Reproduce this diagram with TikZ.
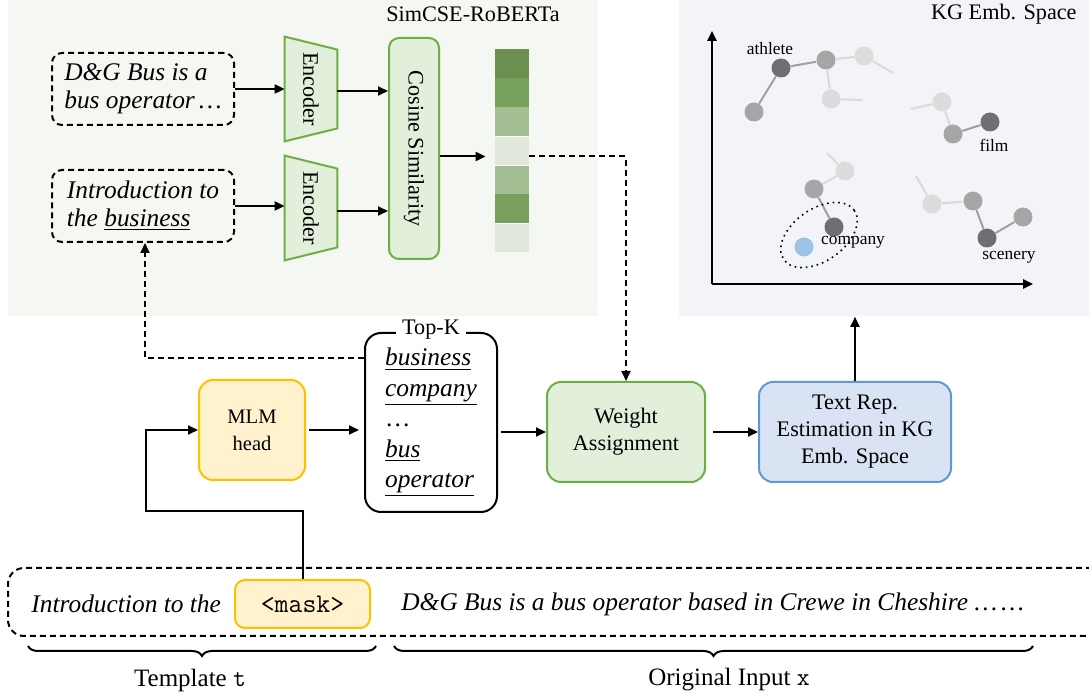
\documentclass[tikz,border=0pt]{standalone}
\usepackage{fontspec}
\setmainfont{Liberation Serif}
\usetikzlibrary{arrows.meta,decorations.pathreplacing,calc}
\definecolor{gfill}{HTML}{E2EFDA}
\definecolor{gdraw}{HTML}{70AD47}
\definecolor{yfill}{HTML}{FFF2CC}
\definecolor{ydraw}{HTML}{FFC000}
\definecolor{bfill}{HTML}{DAE3F3}
\definecolor{bdraw}{HTML}{5B9BD5}
\definecolor{lbg}{HTML}{F5F7F2}
\definecolor{rbg}{HTML}{F3F4F8}
\definecolor{barA}{HTML}{6B8F4E}
\definecolor{barB}{HTML}{77A05C}
\definecolor{barC}{HTML}{A3BE92}
\definecolor{barD}{HTML}{E1E8DB}
\definecolor{kdark}{HTML}{6F6E73}
\definecolor{kmed}{HTML}{A6A6A6}
\definecolor{klight}{HTML}{DCDCDC}
\definecolor{kblue}{HTML}{9DC3E6}
\definecolor{emed}{HTML}{A0A0A0}
\definecolor{elight}{HTML}{DADADA}
\begin{document}
\begin{tikzpicture}[x=0.5pt,y=-0.5pt,
  arr/.style={-{Triangle[length=5pt,width=4.5pt]}, line width=1pt},
  dasharr/.style={-{Triangle[length=5pt,width=4.5pt]}, line width=1pt, dash pattern=on 3pt off 2pt},
  lbl/.style={font=\fontsize{11.1}{13.5}\selectfont, align=center, inner sep=0pt},
  itbox/.style={draw, line width=1pt, dash pattern=on 3pt off 2pt, rounded corners=5pt,
    minimum width=91pt, minimum height=36pt, inner sep=0pt,
    font=\fontsize{12.7}{14}\itshape\selectfont, align=left},
  gbox/.style={draw=gdraw, fill=gfill, line width=1pt, rounded corners=7pt, inner sep=0pt, align=center},
  cell/.style={minimum width=17pt, minimum height=14.5pt, inner sep=0pt},
  kn/.style={circle, minimum size=9.5pt, inner sep=0pt},
  kdk/.style={kn, fill=kdark},
  kmd/.style={kn, fill=kmed},
  klt/.style={kn, fill=klight},
  em/.style={draw=emed, line width=1pt},
  el/.style={draw=elight, line width=1pt},
  klab/.style={font=\fontsize{8.7}{10}\selectfont, inner sep=0pt}
]
\useasboundingbox (0,0) rectangle (1089,700);

% backgrounds
\node[fill=lbg, minimum width=295pt, minimum height=158pt, anchor=north west, inner sep=0pt] (simcse) at (8,0) {};
\node[fill=rbg, minimum width=205pt, minimum height=158pt, anchor=north west, inner sep=0pt] (kg) at (679,0) {};
\node[lbl] (simlab) at (473,14) {SimCSE-RoBERTa};
\node[lbl, anchor=east] (kglab) at (1077,14) {KG Emb. Space};

% input sentence boxes
\node[itbox] (box1) at (143,89) {D\&G Bus is a\\bus operator\,…};
\node[itbox] (box2) at (143,206) {Introduction to\\the \underline{business}};

% encoders
\node[minimum width=26pt, minimum height=52pt, inner sep=0pt] (enc1) at (311,89) {};
\node[minimum width=26pt, minimum height=52pt, inner sep=0pt] (enc2) at (311,208) {};
\foreach \e in {enc1,enc2}{
  \draw[draw=gdraw, fill=gfill, line width=1pt, line join=miter]
    (\e.north west) -- ($(\e.north east)+(0,13)$) -- ($(\e.south east)+(0,-13)$) -- (\e.south west) -- cycle;
  \node[lbl, rotate=-90] at (\e.center) {Encoder};
}
\node[gbox, rounded corners=5pt, minimum width=25pt, minimum height=110.5pt] (cos) at (414,148.5) {};
\node[lbl, rotate=-90] at (cos.center) {Cosine Similarity};

% similarity bar
\node[cell, fill=barA] (bar1) at (512,63.5) {};
\node[cell, fill=barB] (bar2) at (512,92.5) {};
\node[cell, fill=barC] (bar3) at (512,121.5) {};
\node[cell, fill=barD] (bar4) at (512,150.5) {};
\node[cell, fill=barC] (bar5) at (512,179.5) {};
\node[cell, fill=barB] (bar6) at (512,208.5) {};
\node[cell, fill=barD] (bar7) at (512,237.5) {};
\draw[white, line width=0.6pt] (bar3.south west) -- (bar3.south east);
\draw[white, line width=0.6pt] (bar4.south west) -- (bar4.south east);
\draw[white, line width=0.6pt] (bar6.south west) -- (bar6.south east);
\coordinate (barmid) at ($(bar4.west)+(0,6)$);

% arrows in SimCSE block
\draw[arr] (box1.east) -- (box1.east -| enc1.west);
\draw[arr] (box2.east) -- (box2.east -| enc2.west);
\draw[arr] ($(enc1.east)+(0,2)$) -- ($(enc1.east -| cos.west)+(0,2)$);
\draw[arr] ($(enc2.east)+(0,3)$) -- ($(enc2.east -| cos.west)+(0,3)$);
\draw[arr, shorten >=4.5pt] (cos.east |- barmid) -- (barmid);

% middle row
\node[draw=ydraw, fill=yfill, line width=1pt, rounded corners=7pt, minimum width=53pt, minimum height=50pt,
  inner sep=0pt, align=center, font=\fontsize{10.3}{13.5}\selectfont] (mlm) at (252,430) {MLM\\head};
\node[draw, line width=1pt, rounded corners=8pt, minimum width=66pt, minimum height=89.5pt, inner sep=0pt,
  align=left, font=\fontsize{12.7}{15.2}\selectfont] (topk) at (431,422.5)
  {\underline{\itshape business}\\\underline{\itshape company}\\…\\\underline{\itshape bus}\\\underline{\itshape operator}};
\node[fill=white, inner xsep=3pt, inner ysep=1pt, font=\fontsize{11.1}{13.5}\selectfont] (topklab) at ($(topk.north)+(0,-2)$) {Top-K};
\node[gbox, minimum width=79pt, minimum height=50pt, font=\fontsize{11.1}{13.5}\selectfont] (wa) at (626,432) {Weight\\Assignment};
\node[draw=bdraw, fill=bfill, line width=1pt, rounded corners=7pt, minimum width=96pt, minimum height=50pt,
  inner sep=0pt, align=center, font=\fontsize{11.1}{13.5}\selectfont] (tr) at (855,432) {Text Rep.\\Estimation in KG\\Emb. Space};

\draw[arr, shorten <=1.5pt, shorten >=2.5pt] (mlm.east) -- (mlm.east -| topk.west);
\draw[arr, shorten <=1.5pt] (topk.east |- wa.west) -- (wa.west);
\draw[arr, shorten <=3.5pt] (wa.east) -- (tr.west);
\draw[arr] (tr.north) -- (tr.north |- kg.south);
\draw[dasharr] ($(bar4.east)+(0,6)$) -| (wa.north);
\coordinate (tkl) at ($(topk.north west)+(0,26)$);
\draw[dasharr] (tkl) -| ($(box2.south)+(2,0)$);

% bottom input
\draw[line width=1pt, dash pattern=on 3pt off 2pt, rounded corners=8pt] (1092,568) -- (8,568) -- (8,636) -- (1092,636);
\node[anchor=west, inner sep=0pt, font=\fontsize{12.7}{14}\itshape\selectfont] (tmpl) at (31,604) {Introduction to the};
\node[draw=ydraw, fill=yfill, line width=1pt, rounded corners=5pt, minimum width=67.5pt, minimum height=24pt,
  inner sep=0pt, font=\fontsize{13.5}{15}\ttfamily] (mask) at (302.5,604) {<mask>};
\node[anchor=west, inner sep=0pt, font=\fontsize{12.7}{14}\itshape\selectfont] (orig) at (401,604)
  {D\&G Bus is a bus operator based in Crewe in Cheshire …\,…};
\draw[arr] (mask.north) -- ++(0,-68) -| ($(mlm.west)+(-52,0)$) -- (mlm.west);

% braces
\draw[decorate, decoration={brace, mirror, amplitude=5pt}, line width=1pt] (28,646) -- (376,646);
\draw[decorate, decoration={brace, mirror, amplitude=5pt}, line width=1pt] (394,646) -- (1033,646);
\node[font=\fontsize{12.5}{14}\selectfont, inner sep=0pt] (tlab) at (190,680) {Template \texttt{t}};
\node[font=\fontsize{12.5}{14}\selectfont, inner sep=0pt] (olab) at (729,680) {Original Input \texttt{x}};

% KG embedding space
\coordinate (ax0) at (712,284);
\coordinate (axy) at (712,31);
\coordinate (axx) at (1033,284);
\draw[arr, line width=1.2pt] (ax0) -- (axy);
\draw[arr, line width=1.2pt] (ax0) -- (axx);

\node[kdk] (adk) at (781,68) {};
\node[kmd] (am1) at (826,60) {};
\node[klt] (al1) at (864,56) {};
\node[klt] (al2) at (831,99) {};
\node[kmd] (am2) at (754,112) {};
\coordinate (fe1) at (893,73);
\coordinate (fe2) at (862,100);
\draw[em] (am2) -- (adk);
\draw[em] (adk) -- (am1);
\draw[el] (am1) -- (al1);
\draw[el] (am1) -- (al2);
\draw[el] (al1) -- (fe1);
\draw[el] (al2) -- (fe2);
\node[klab] at (770,49) {athlete};

\node[klt] (fl) at (942,102) {};
\node[kmd] (fm) at (953,134) {};
\node[kdk] (fd) at (990,122) {};
\coordinate (fe3) at (911,109);
\draw[el] (fe3) -- (fl);
\draw[el] (fl) -- (fm);
\draw[em] (fm) -- (fd);
\node[klab] at (994,145) {film};

\node[klt] (cl) at (845,171) {};
\node[kmd] (cm) at (814,189) {};
\node[kdk] (cd) at (834,227) {};
\node[kn, fill=kblue] (cb) at (804,247) {};
\coordinate (fe4) at (827,153);
\draw[el] (fe4) -- (cl);
\draw[el] (cl) -- (cm);
\draw[em] (cm) -- (cd);
\node[klab] at (853,242) {company};
\draw[line width=0.8pt, dotted] (819,235) ellipse [x radius=21.5pt, y radius=13pt, rotate=35];

\node[klt] (sl) at (932,204) {};
\node[kmd] (sm1) at (973,201) {};
\node[kdk] (sd) at (987,238) {};
\node[kmd] (sm2) at (1023,217) {};
\coordinate (fe5) at (916,176);
\draw[el] (fe5) -- (sl);
\draw[el] (sl) -- (sm1);
\draw[em] (sm1) -- (sd);
\draw[em] (sd) -- (sm2);
\node[klab] at (1009,257) {scenery};
\end{tikzpicture}
\end{document}
